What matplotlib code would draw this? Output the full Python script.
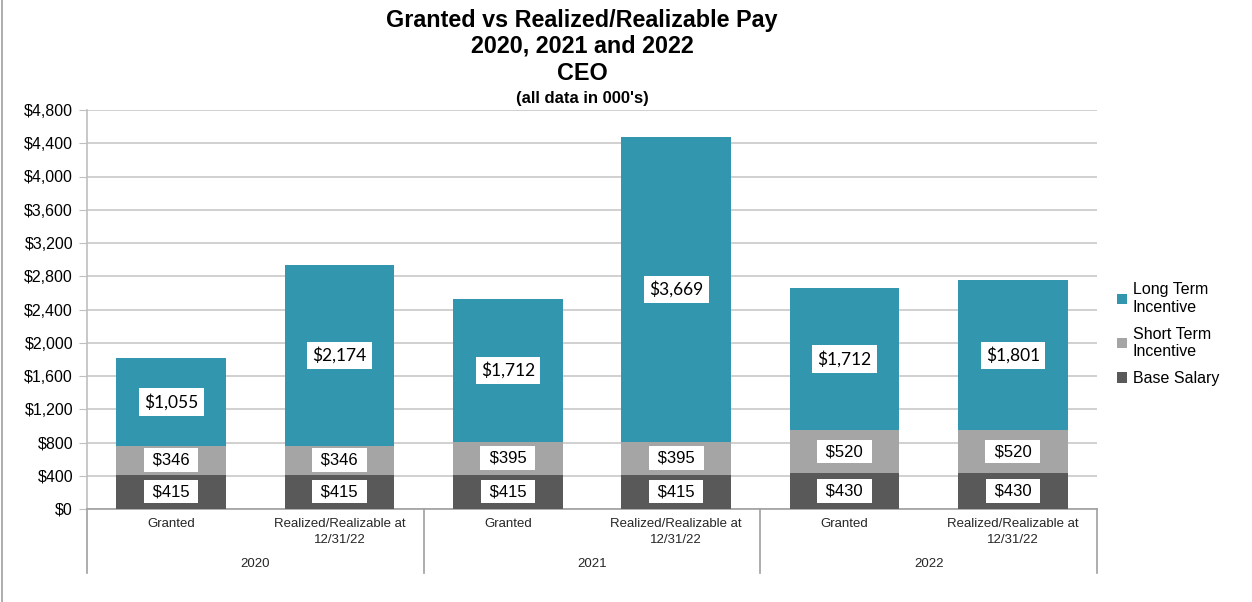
# Granted vs Realized/Realizable Pay, CEO, stacked bars by year
import matplotlib.pyplot as plt
import numpy as np
from matplotlib.lines import Line2D

years = ["2020", "2021", "2022"]
categories = ["Granted", "Realized/Realizable at\n12/31/22"] * 3
base_salary = [415, 415, 415, 415, 430, 430]
short_term = [346, 346, 395, 395, 520, 520]
long_term = [1055, 2174, 1712, 3669, 1712, 1801]
yticks = np.arange(0, 4801, 400)

c_base, c_sti, c_lti = "#595959", "#a5a5a5", "#3196ae"
font = "Liberation Sans"

fig = plt.figure(figsize=(12.52, 6.02), dpi=100)
ax = fig.add_axes([87/1252, 1 - 509/602, (1097-87)/1252, (509-110)/602])

x = np.arange(len(categories))
w = 0.65
b1 = ax.bar(x, base_salary, w, color=c_base, label="Base Salary", zorder=3)
b2 = ax.bar(x, short_term, w, bottom=base_salary, color=c_sti,
            label="Short Term\nIncentive", zorder=3)
bottom3 = np.array(base_salary) + np.array(short_term)
b3 = ax.bar(x, long_term, w, bottom=bottom3, color=c_lti,
            label="Long Term\nIncentive", zorder=3)

box = dict(boxstyle="square,pad=0.25", fc="white", ec="none")
for i in range(len(x)):
    ax.text(x[i], base_salary[i] / 2, f" ${base_salary[i]:,} ", ha="center",
            va="center", fontsize=12, family=font, bbox=box, zorder=4)
    ax.text(x[i], base_salary[i] + short_term[i] / 2, f" ${short_term[i]:,} ",
            ha="center", va="center", fontsize=12, family=font, bbox=box, zorder=4)
    ax.text(x[i], bottom3[i] + long_term[i] / 2, f"${long_term[i]:,}",
            ha="center", va="center", fontsize=12.5, family="Lato",
            bbox=dict(boxstyle="square,pad=0.3", fc="white", ec="none"), zorder=4)

ax.set_xlim(-0.5, len(x) - 0.5)
ax.set_ylim(0, 4800)
ax.set_yticks(yticks)
ax.set_yticklabels([f"${v:,}" for v in yticks], fontsize=11.5, family=font)
ax.yaxis.grid(True, color="#c8c8c8", linewidth=1.2, zorder=0)
ax.tick_params(axis="y", length=6, color="#bfbfbf", pad=4)
ax.tick_params(axis="x", length=0)
ax.set_xticks([])
for s in ["top", "right"]:
    ax.spines[s].set_visible(False)
ax.spines["left"].set_color("#bfbfbf")
ax.spines["left"].set_linewidth(1.2)
ax.spines["bottom"].set_color("#a0a0a0")
ax.spines["bottom"].set_linewidth(1.2)
ax.set_axisbelow(True)

# category labels and year groups under the axis
trans = ax.get_xaxis_transform()
for i, c in enumerate(categories):
    ax.text(x[i], -0.022, c, transform=trans, ha="center", va="top",
            fontsize=9.5, family=font, color="#262626", linespacing=1.45)
for j, yr in enumerate(years):
    ax.text(2 * j + 0.5, -0.123, yr, transform=trans, ha="center", va="top",
            fontsize=9.5, family=font, color="#262626")
for xs in [-0.5, 1.5, 3.5, 5.5]:
    ax.add_line(Line2D([xs, xs], [0, -64/399], transform=trans, color="#a0a0a0",
                       linewidth=1.2, clip_on=False))

handles = [b3, b2, b1]
leg = fig.legend(handles, [h.get_label() for h in handles], loc="upper left",
                 bbox_to_anchor=(1103/1252, 1 - 268/602), frameon=False,
                 prop={"family": font, "size": 11.5}, handlelength=0.6,
                 handleheight=0.6, handletextpad=0.35, labelspacing=0.75)

fig.text(582/1252, 1 - 20/602, "Granted vs Realized/Realizable Pay", ha="center",
         va="center", fontsize=16.8, fontweight="bold", family=font)
fig.text(582/1252, 1 - 46/602, "2020, 2021 and 2022", ha="center",
         va="center", fontsize=16.8, fontweight="bold", family=font)
fig.text(582/1252, 1 - 73/602, "CEO", ha="center",
         va="center", fontsize=16.8, fontweight="bold", family=font)
fig.text(582/1252, 1 - 98/602, "(all data in 000's)", ha="center",
         va="center", fontsize=12, fontweight="bold", family=font)

fig.add_artist(Line2D([1.5/1252, 1.5/1252], [0, 1], color="#a0a0a0", linewidth=1.2))

fig.savefig("out.png", dpi=100)
